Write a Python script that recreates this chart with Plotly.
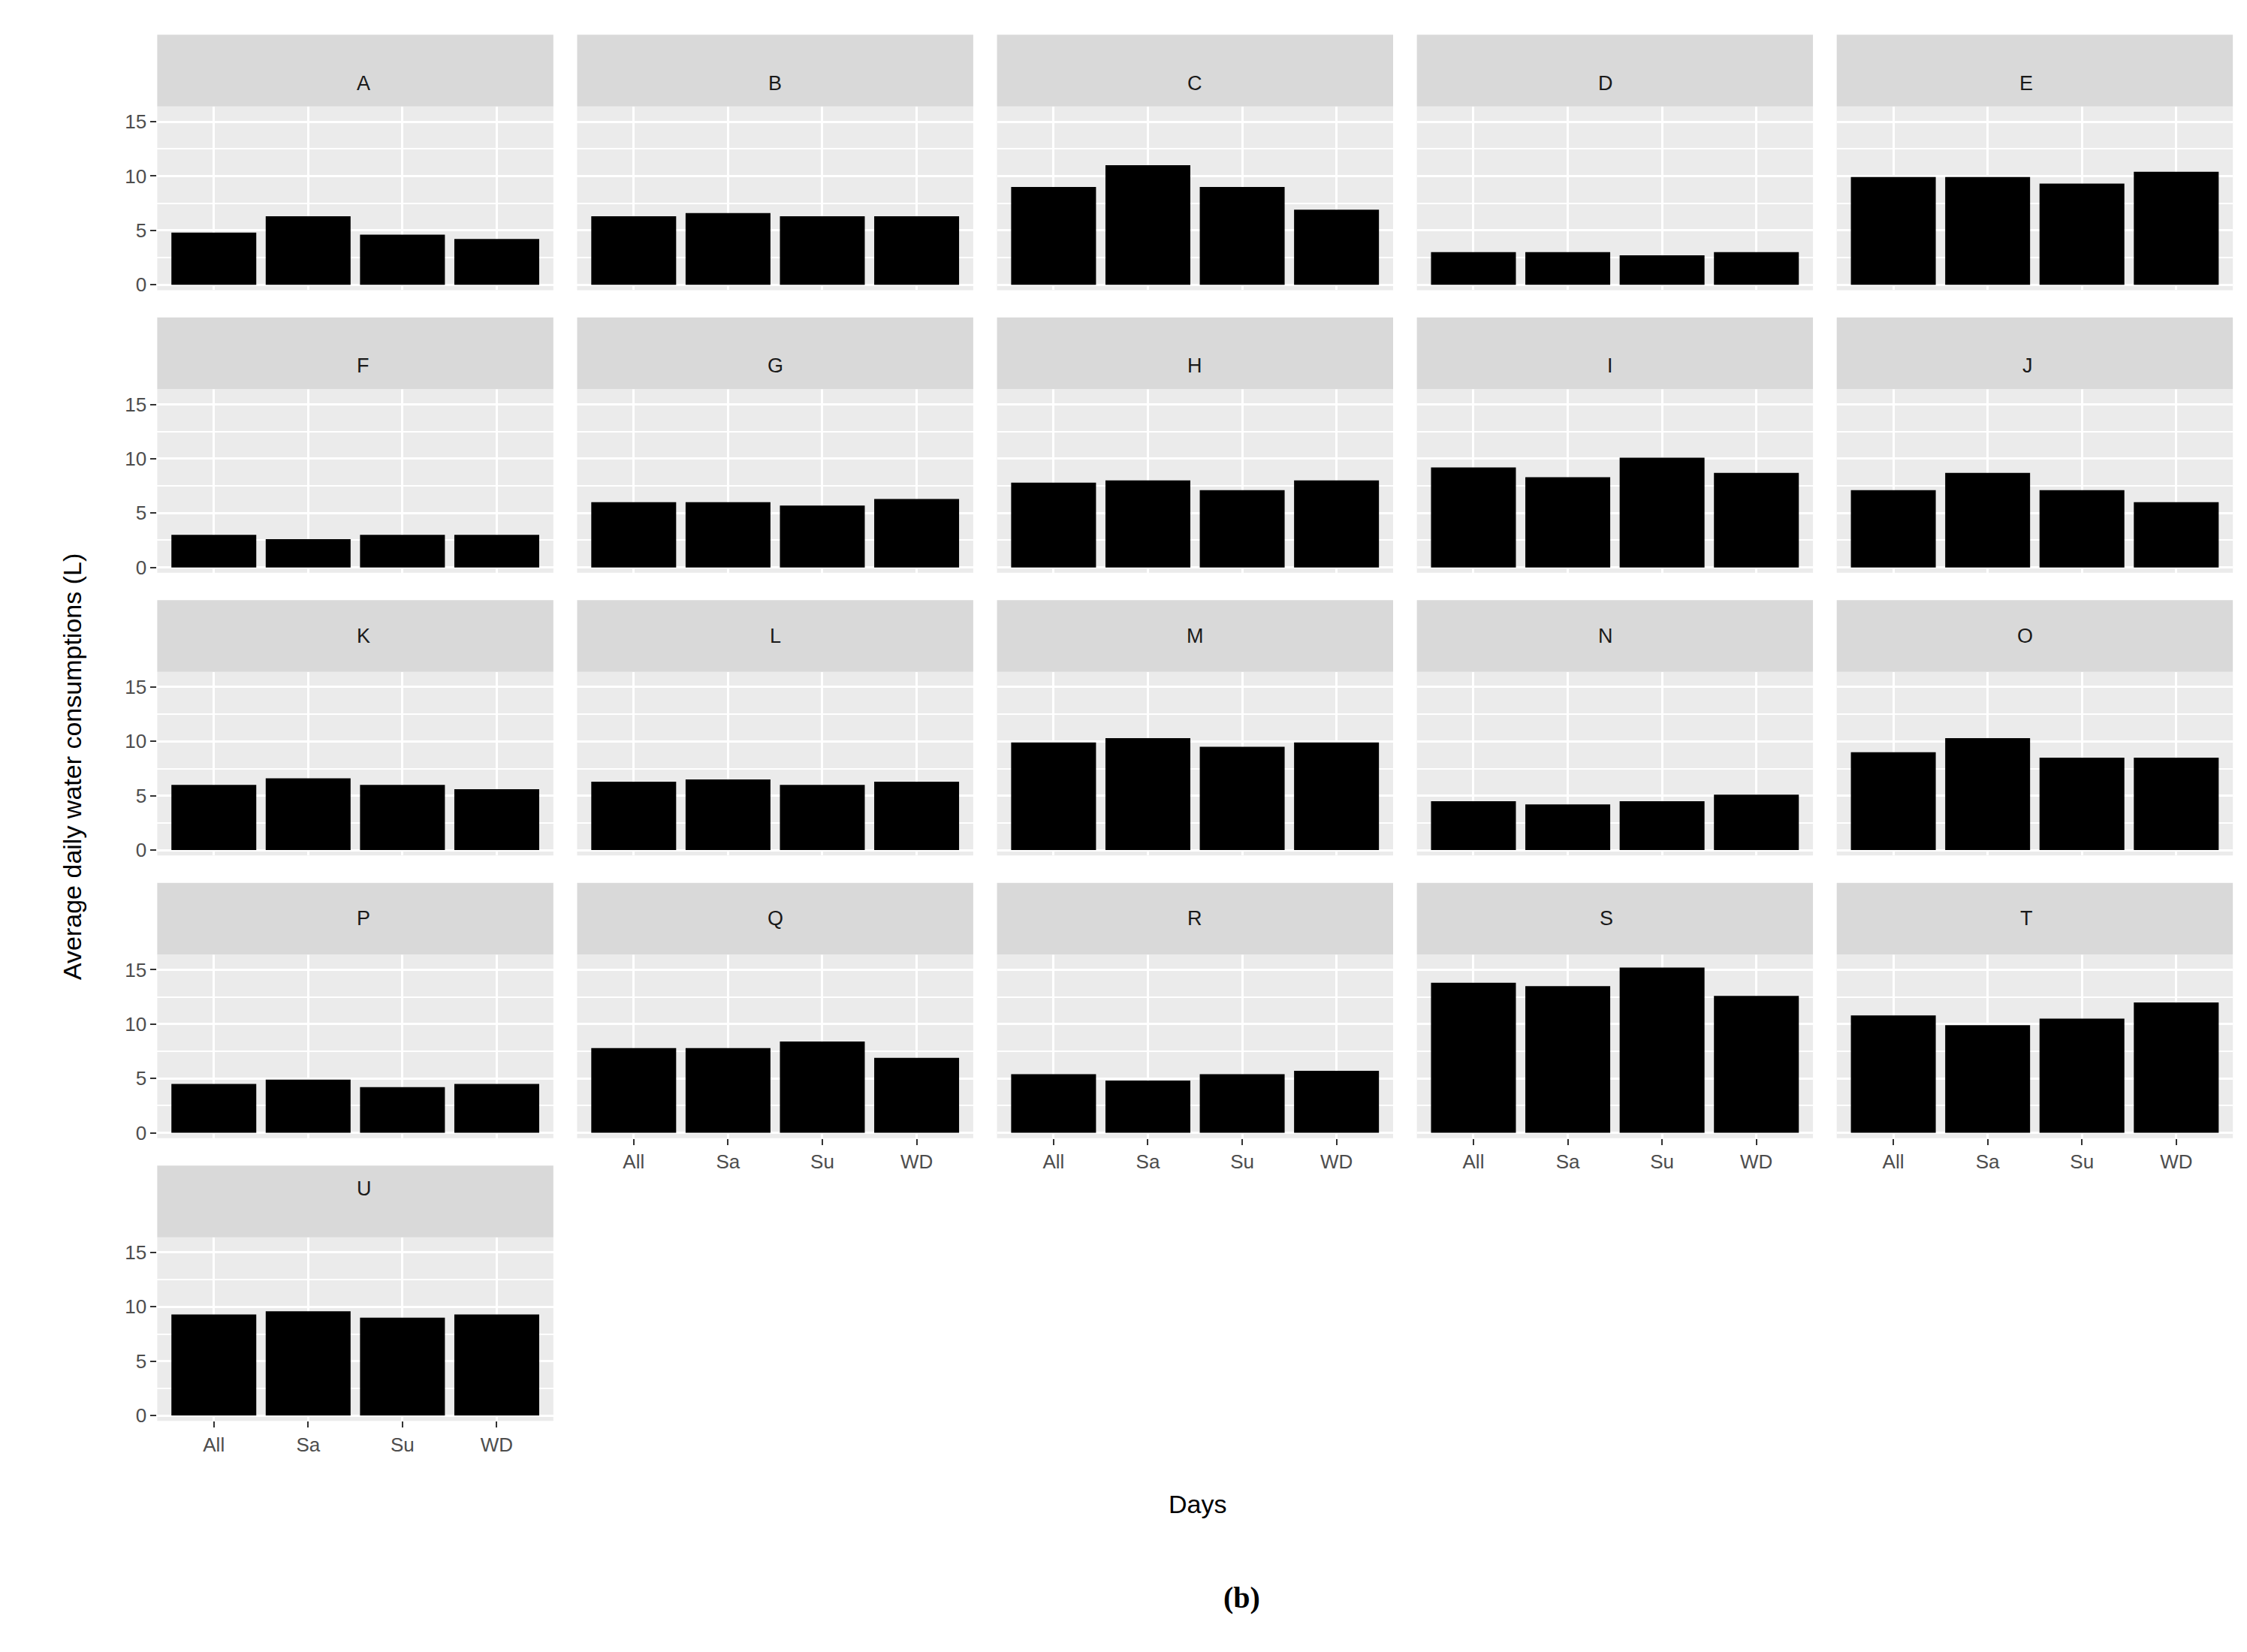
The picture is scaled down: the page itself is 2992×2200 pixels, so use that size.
import plotly.graph_objects as go

days = ["All", "Sa", "Su", "WD"]
panels = list("ABCDEFGHIJKLMNOPQRSTU")
A = [4.8, 6.3, 4.6, 4.2]; B = [6.3, 6.6, 6.3, 6.3]; C = [9.0, 11.0, 9.0, 6.9]
D = [3.0, 3.0, 2.7, 3.0]; E = [9.9, 9.9, 9.3, 10.4]; F = [3.0, 2.6, 3.0, 3.0]
G = [6.0, 6.0, 5.7, 6.3]; H = [7.8, 8.0, 7.1, 8.0]; I = [9.2, 8.3, 10.1, 8.7]
J = [7.1, 8.7, 7.1, 6.0]; K = [6.0, 6.6, 6.0, 5.6]; L = [6.3, 6.5, 6.0, 6.3]
M = [9.9, 10.3, 9.5, 9.9]; N = [4.5, 4.2, 4.5, 5.1]; O = [9.0, 10.3, 8.5, 8.5]
P = [4.5, 4.9, 4.2, 4.5]; Q = [7.8, 7.8, 8.4, 6.9]; R = [5.4, 4.8, 5.4, 5.7]
S = [13.8, 13.5, 15.2, 12.6]; T = [10.8, 9.9, 10.5, 12.0]; U = [9.3, 9.6, 9.0, 9.3]
values = [A, B, C, D, E, F, G, H, I, J, K, L, M, N, O, P, Q, R, S, T, U]
yticks = [0, 5, 10, 15]

W, H_ = 1560.0, 1147.0
fig = go.Figure()
layout = {}
shapes, annots = [], []
for i, (name, vals) in enumerate(zip(panels, values)):
    r, c = divmod(i, 5)
    x0 = 105 + 291.5 * c; x1 = x0 + 275
    st = 20 + 197.0 * r; sb = st + 50; pb = sb + 128
    n = "" if i == 0 else str(i + 1)
    fig.add_trace(go.Bar(x=days, y=vals, width=0.9, marker=dict(color="black", line_width=0),
                         xaxis="x" + n, yaxis="y" + n, showlegend=False))
    bottom = (r == 3 and c >= 1) or i == 20
    layout["xaxis" + n] = dict(domain=[x0 / W, x1 / W], anchor="y" + n, range=[-0.6, 3.6],
        categoryorder="array", categoryarray=days, showgrid=True, gridcolor="white", gridwidth=3,
        showticklabels=bottom, ticks="outside" if bottom else "", ticklen=8, tickwidth=2,
        tickcolor="#333333", tickfont=dict(size=26, color="#4D4D4D", family="Liberation Sans"),
        zeroline=False, fixedrange=True)
    left = c == 0
    layout["yaxis" + n] = dict(domain=[1 - pb / H_, 1 - sb / H_], anchor="x" + n, range=[-0.5, 16.4],
        tickvals=yticks, showgrid=True, gridcolor="white", gridwidth=3,
        minor=dict(dtick=2.5, tick0=0, showgrid=True, gridcolor="white", gridwidth=1.5),
        showticklabels=left, ticks="outside" if left else "", ticklen=8, tickwidth=2,
        tickcolor="#333333", tickfont=dict(size=26, color="#4D4D4D", family="Liberation Sans"),
        zeroline=False)
    shapes.append(dict(type="rect", xref="paper", yref="paper", x0=x0 / W, x1=x1 / W,
                       y0=1 - pb / H_, y1=1 - sb / H_, fillcolor="#EBEBEB", line_width=0, layer="below"))
    shapes.append(dict(type="rect", xref="paper", yref="paper", x0=x0 / W, x1=x1 / W,
                       y0=1 - sb / H_, y1=1 - st / H_, fillcolor="#D9D9D9", line_width=0))
    annots.append(dict(text=name, xref="paper", yref="paper", x=(x0 + x1) / 2 / W,
                       y=1 - (st + 25) / H_, showarrow=False,
                       font=dict(size=27, color="#1A1A1A", family="Liberation Sans")))

annots.append(dict(text="Days", xref="paper", yref="paper", x=827 / W, y=1 - 1055 / H_,
                   showarrow=False, font=dict(size=34, color="black", family="Liberation Sans")))
annots.append(dict(text="Average daily water consumptions (L)", xref="paper", yref="paper",
                   x=35 / W, y=1 - 530 / H_, textangle=-90, showarrow=False,
                   font=dict(size=34, color="black", family="Liberation Sans")))
annots.append(dict(text="<b>(b)</b>", xref="paper", yref="paper", x=858 / W, y=1 - 1122 / H_,
                   showarrow=False, font=dict(size=40, color="black", family="Liberation Serif")))

fig.update_layout(**layout, width=2992, height=2200, margin=dict(l=0, r=0, t=0, b=0),
                  paper_bgcolor="white", plot_bgcolor="rgba(0,0,0,0)", shapes=shapes,
                  annotations=annots, bargap=0.1)
fig.write_html("out.html")
